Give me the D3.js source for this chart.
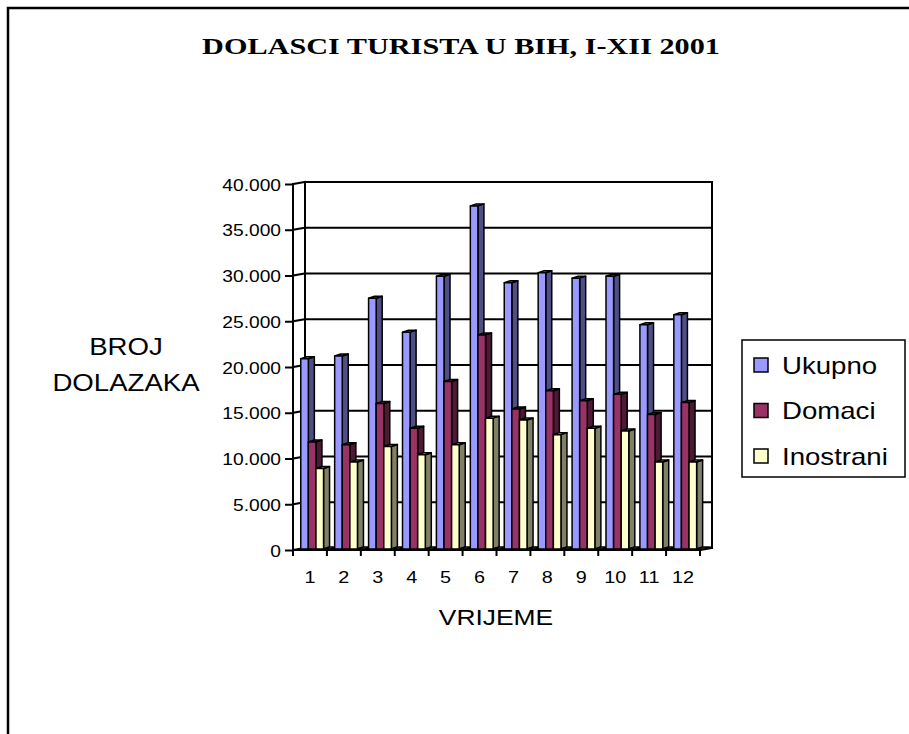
<!DOCTYPE html>
<html>
<head>
<meta charset="utf-8">
<script src="https://cdn.jsdelivr.net/npm/d3@7/dist/d3.min.js"></script>
<style>
  html, body { margin: 0; padding: 0; background: #ffffff; }
  svg { display: block; }
  text { font-family: "Liberation Sans", Arial, sans-serif; fill: #000; }
</style>
</head>
<body>
<svg id="chart" width="909" height="734"></svg>
<script>
// ---------------- data ----------------
const title = "DOLASCI TURISTA U BIH, I-XII 2001";
const months = ["1","2","3","4","5","6","7","8","9","10","11","12"];
const seriesNames = ["Ukupno", "Domaci", "Inostrani"];
const ukupno    = [20800, 21100, 27400, 23700, 29800, 37500, 29100, 30200, 29600, 29800, 24500, 25600];
const domaci    = [11700, 11400, 15900, 13200, 18300, 23400, 15300, 17300, 16200, 16900, 14700, 16000];
const inostrani = [ 8800,  9500, 11200, 10300, 11400, 14300, 14100, 12500, 13200, 12900,  9500,  9500];
const empty     = [0,0,0,0,0,0,0,0,0,0,0,0]; // fourth (empty) series drawn flat on the floor
const yTicks = [0, 5000, 10000, 15000, 20000, 25000, 30000, 35000, 40000];
const yTitle = ["BROJ", "DOLAZAKA"];
const xTitle = "VRIJEME";

// ---------------- layout ----------------
const svg = d3.select("#chart");
const X0 = 293, X1 = 700, YB = 550, YT = 184;
const WDX = 12, WDY = -2;          // wall depth
const BDX = 6, BDY = -2;           // bar depth
const BW = 7.6;                    // bar width
const SX = 1.2;                    // horizontal text stretch

const y = d3.scaleLinear().domain([0, 40000]).range([YB, YT]);
const x = d3.scaleBand().domain(months).range([X0, X1]).paddingInner(0).paddingOuter(0);
const sub = d3.scaleBand().domain([0,1,2,3]).range([0, BW*4]);
const loc = d3.formatLocale({decimal: ",", thousands: ".", grouping: [3], currency: ["", ""]});
const fmt = loc.format(",");

// outer frame
svg.append("rect").attr("x", 8).attr("y", 8).attr("width", 920).attr("height", 760)
  .attr("fill", "none").attr("stroke", "#000").attr("stroke-width", 2.5);

// title
svg.append("text").text(title)
  .attr("transform", `translate(461,54) scale(1.26,1)`)
  .attr("text-anchor", "middle")
  .style("font-family", "'Liberation Serif', 'Times New Roman', serif")
  .style("font-weight", "bold").style("font-size", "24px");

// ---------------- walls & grid ----------------
const g = svg.append("g");
const line = (x1, y1, x2, y2, w) => g.append("line")
  .attr("x1", x1).attr("y1", y1).attr("x2", x2).attr("y2", y2)
  .attr("stroke", "#000").attr("stroke-width", w).attr("stroke-linecap", "square");

yTicks.forEach(t => {
  const yy = y(t);
  line(X0, yy, X0 + WDX, yy + WDY, 2);
  if (t > 0) line(X0 + WDX, yy + WDY, X0 + WDX + (X1 - X0), yy + WDY, 2);
});
// vertical wall edges
line(X0, YT, X0, YB, 2);
line(X0 + WDX, YT + WDY, X0 + WDX, YB + WDY, 2);
line(X1 + WDX, YT + WDY, X1 + WDX, YB + WDY, 2);
// floor
line(X0 + WDX, YB + WDY, X1 + WDX, YB + WDY, 2);
line(X0, YB, X1, YB, 2);
line(X1, YB, X1 + WDX, YB + WDY, 2);

// y axis ticks & labels
const yAxis = d3.axisLeft(y).tickValues(yTicks).tickSize(8).tickPadding(5)
  .tickFormat(d => d === 0 ? "0" : fmt(d));
const ya = svg.append("g").attr("transform", `translate(${X0},0)`).call(yAxis);
ya.select(".domain").remove();
ya.selectAll(".tick line").attr("stroke", "#000").attr("stroke-width", 2);
ya.selectAll(".tick text").each(function() {
  const t = d3.select(this);
  t.attr("x", null).attr("dy", null).attr("text-anchor", "end")
   .attr("transform", `translate(-12,6) scale(${SX},1)`)
   .style("font-size", "16px").style("font-family", "'Liberation Sans', Arial, sans-serif");
});

// x axis boundary ticks
const bounds = months.map(m => x(m)).concat([X1]);
svg.append("g").selectAll("line").data(bounds).join("line")
  .attr("x1", d => d).attr("x2", d => d).attr("y1", YB).attr("y2", YB + 6)
  .attr("stroke", "#000").attr("stroke-width", 2);
const xAxis = d3.axisBottom(x).tickSize(0).tickPadding(0);
const xa = svg.append("g").attr("transform", `translate(0,${YB})`).call(xAxis);
xa.select(".domain").remove();
xa.selectAll(".tick text").each(function() {
  d3.select(this).attr("y", null).attr("dy", null).attr("text-anchor", "middle")
    .attr("transform", `translate(0,33) scale(${SX},1)`)
    .style("font-size", "16.5px").style("font-family", "'Liberation Sans', Arial, sans-serif");
});

// ---------------- bars ----------------
const series = [
  {vals: ukupno,    face: "#9999FF", side: "#4F4F85", top: "#7676C6"},
  {vals: domaci,    face: "#993366", side: "#4D1A33", top: "#7A2952"},
  {vals: inostrani, face: "#FFFFCC", side: "#808066", top: "#C4C49C"},
  {vals: empty,     face: "#6E6E5C", side: "#6E6E5C", top: "#6E6E5C"}
];
const bars = [];
months.forEach((m, i) => {
  series.forEach((s, k) => bars.push({m, k, v: s.vals[i], s}));
});
const OFFX = 1.75 + WDX / 2, OFFY = WDY / 2;
const bg = svg.append("g").attr("stroke", "#000").attr("stroke-width", 1.5).attr("stroke-linejoin", "round");
bars.forEach(b => {
  const xl = x(b.m) + OFFX + sub(b.k);
  const xr = xl + BW;
  const yb = YB + OFFY;
  const yt = y(b.v) + OFFY;
  const P = pts => pts.map(p => p.join(",")).join(" ");
  const grp = bg.append("g");
  if (b.v > 0) {
    grp.append("polygon").attr("fill", b.s.side)
      .attr("points", P([[xr, yt], [xr + BDX, yt + BDY], [xr + BDX, yb + BDY], [xr, yb]]));
    grp.append("polygon").attr("fill", b.s.top)
      .attr("points", P([[xl, yt], [xl + BDX, yt + BDY], [xr + BDX, yt + BDY], [xr, yt]]));
    grp.append("rect").attr("fill", b.s.face)
      .attr("x", xl).attr("y", yt).attr("width", BW).attr("height", yb - yt);
  } else {
    grp.append("polygon").attr("fill", b.s.top)
      .attr("points", P([[xl, yt], [xl + BDX, yt + BDY], [xr + BDX, yt + BDY], [xr, yt]]));
  }
});

// ---------------- titles ----------------
svg.append("text").text(xTitle)
  .attr("transform", `translate(496,625) scale(${SX},1)`)
  .attr("text-anchor", "middle").style("font-size", "22px");
yTitle.forEach((t, i) => {
  svg.append("text").text(t)
    .attr("transform", `translate(126,${355 + i * 36}) scale(${SX},1)`)
    .attr("text-anchor", "middle").style("font-size", "23px");
});

// ---------------- legend ----------------
const lg = svg.append("g");
lg.append("rect").attr("x", 742).attr("y", 340).attr("width", 163).attr("height", 137)
  .attr("fill", "#fff").attr("stroke", "#000").attr("stroke-width", 1.5);
seriesNames.forEach((n, i) => {
  const cy = 365 + i * 45.5;
  lg.append("rect").attr("x", 754).attr("y", cy - 7).attr("width", 14).attr("height", 14)
    .attr("fill", series[i].face).attr("stroke", "#000").attr("stroke-width", 1.5);
  lg.append("text").text(n)
    .attr("transform", `translate(782,${cy + 8.5}) scale(${SX},1)`)
    .style("font-size", "23px");
});
</script>
</body>
</html>
